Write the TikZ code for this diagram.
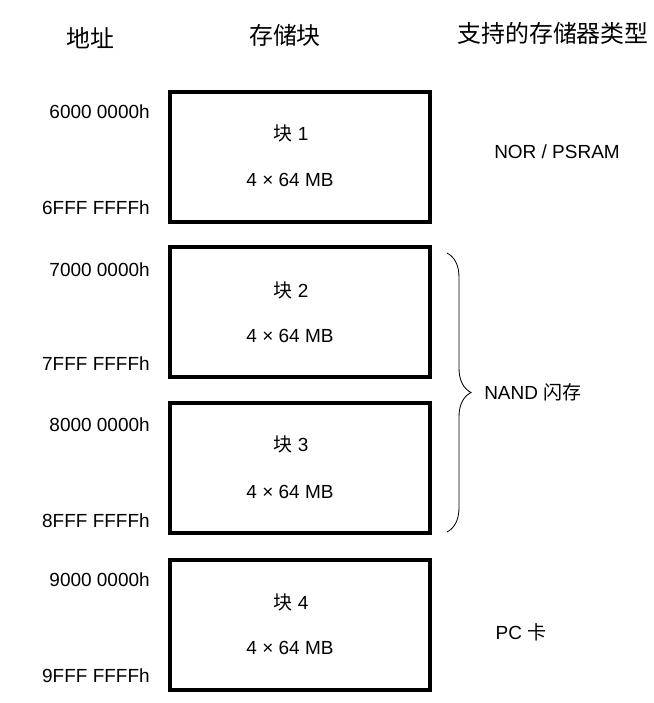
\documentclass[tikz,border=0pt]{standalone}
\usepackage{fontspec}
\setmainfont{Liberation Sans}
\newfontfamily\cjk{Noto Sans CJK SC}
\usetikzlibrary{decorations.pathreplacing}

\tikzset{
  blk/.style={draw, line width=2.4pt, minimum width=65mm, minimum height=32.5mm, inner sep=0pt},
  hdr/.style={font=\cjk\fontsize{17pt}{20pt}\selectfont},
  addr/.style={anchor=east},
}

\begin{document}
\begin{tikzpicture}[x=0.25mm, y=-0.25mm, every node/.style={font=\fontsize{13.5pt}{15pt}\selectfont, inner sep=0pt}]
                \useasboundingbox (0,0) rectangle (653,703);
                % column heads
                \node[hdr] (haddr) at (90,38) {地址};
                \node[hdr] (hblk) at (285,35) {存储块};
                \node[hdr] (htype) at (553,33) {支持的存储器类型};
                % blocks
                \node[blk] (b1) at (300,157) {};
                \node (b1name) at (291,133) {{\cjk 块} 1};
                \node (b1size) at (290,180) {4 × 64 MB};
                \node[blk] (b2) at (300,312) {};
                \node (b2name) at (291,290) {{\cjk 块} 2};
                \node (b2size) at (290,336) {4 × 64 MB};
                \node[blk] (b3) at (300,468) {};
                \node (b3name) at (291,444) {{\cjk 块} 3};
                \node (b3size) at (290,492) {4 × 64 MB};
                \node[blk] (b4) at (300,625) {};
                \node (b4name) at (291,602) {{\cjk 块} 4};
                \node (b4size) at (290,648) {4 × 64 MB};
                % addresses
                \node[addr] (a6lo) at (150,112) {6000 0000h};
                \node[addr] (a6hi) at (150,208) {6FFF FFFFh};
                \node[addr] (a7lo) at (150,270) {7000 0000h};
                \node[addr] (a7hi) at (150,364) {7FFF FFFFh};
                \node[addr] (a8lo) at (150,425) {8000 0000h};
                \node[addr] (a8hi) at (150,521) {8FFF FFFFh};
                \node[addr] (a9lo) at (150,580) {9000 0000h};
                \node[addr] (a9hi) at (150,676) {9FFF FFFFh};
                % memory types
                \node (nor) at (557,152) {NOR / PSRAM};
                \coordinate (nandtop) at (447,253);
                \coordinate (nandbot) at (447,532);
                \draw[decorate, decoration={brace, amplitude=6mm}, semithick] (nandtop) -- (nandbot);
                \node[anchor=west] (nand) at (484,392) {NAND {\cjk 闪存}};
                \node (pc) at (521,632) {PC {\cjk 卡}};
            \end{tikzpicture}
\end{document}
